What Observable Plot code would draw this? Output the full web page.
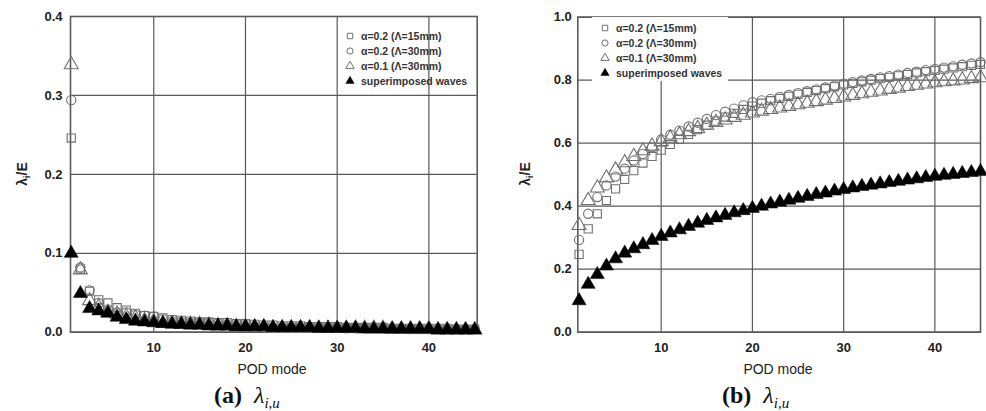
<!DOCTYPE html>
<html>
<head>
<meta charset="utf-8">
<script src="https://cdn.jsdelivr.net/npm/d3@7"></script>
<script src="https://cdn.jsdelivr.net/npm/@observablehq/plot@0.6"></script>
<style>
  html, body { margin: 0; padding: 0; background: #fff; }
  #wrap { position: relative; width: 986px; height: 411px; background: #fff; overflow: hidden; font-family: "Liberation Sans", Arial, sans-serif; color: #222; }
  .panel { position: absolute; top: 0; }
  .ylab { position: absolute; transform: translate(-50%, -50%) rotate(-90deg); font: bold 14px "Liberation Sans", Arial, sans-serif; color: #222; white-space: nowrap; }
  .ylab sub { font-size: 9px; vertical-align: -3px; }
  .xlab { position: absolute; transform: translate(-50%, -50%); font: 14px "Liberation Sans", Arial, sans-serif; color: #222; white-space: nowrap; }
  .cap { position: absolute; transform: translateY(-50%); font-family: "Liberation Serif", "DejaVu Serif", serif; color: #111; white-space: nowrap; }
  .cap b { font-size: 24px; font-weight: bold; }
  .cap i { font-size: 24px; font-style: italic; margin-left: 12px; }
  .cap i sub { font-size: 15px; vertical-align: -5px; }
  .leg { position: absolute; font: bold 10.5px "Liberation Sans", Arial, sans-serif; color: #333; }
  .legrow { position: absolute; height: 14px; line-height: 14px; white-space: nowrap; }
  .legrow svg { position: absolute; left: 0; top: 2px; }
  .legrow span { position: absolute; }
</style>
</head>
<body>
<div id="wrap">
  <div id="pa" class="panel" style="left:0px"></div>
  <div id="pb" class="panel" style="left:490px"></div>
</div>
<script>
// ---------------- data ----------------
const podModes = Array.from({length: 45}, (_, i) => i + 1);

const seriesNames = ["α=0.2 (Λ=15mm)", "α=0.2 (Λ=30mm)", "α=0.1 (Λ=30mm)", "superimposed waves"];

// (a) individual eigenvalue ratio λ_i/E
const a_sq15 = [0.246,0.080,0.052,0.041,0.037,0.031,0.028,0.024,0.021,0.020,0.018,0.016,0.015,0.014,0.013,0.013,0.012,0.012,0.011,0.011,0.010,0.009,0.009,0.008,0.008,0.008,0.007,0.007,0.007,0.007,0.006,0.006,0.006,0.006,0.006,0.005,0.005,0.005,0.005,0.005,0.005,0.005,0.004,0.004,0.004];
const a_ci30 = [0.294,0.082,0.053,0.037,0.029,0.025,0.025,0.022,0.021,0.020,0.016,0.014,0.013,0.012,0.012,0.012,0.011,0.010,0.010,0.010,0.007,0.006,0.006,0.006,0.006,0.006,0.006,0.006,0.006,0.006,0.005,0.005,0.005,0.005,0.005,0.005,0.005,0.004,0.004,0.004,0.004,0.004,0.004,0.004,0.004];
const a_tr30 = [0.339,0.079,0.040,0.032,0.025,0.023,0.020,0.018,0.015,0.014,0.011,0.011,0.010,0.010,0.010,0.009,0.008,0.008,0.007,0.007,0.006,0.006,0.005,0.005,0.005,0.005,0.005,0.005,0.005,0.005,0.005,0.005,0.005,0.005,0.005,0.004,0.004,0.004,0.004,0.004,0.003,0.003,0.003,0.003,0.003];
const a_sup  = [0.100,0.049,0.030,0.027,0.024,0.019,0.016,0.014,0.013,0.012,0.011,0.010,0.010,0.009,0.009,0.008,0.008,0.008,0.007,0.007,0.007,0.007,0.006,0.006,0.006,0.006,0.006,0.005,0.005,0.005,0.005,0.005,0.004,0.004,0.004,0.004,0.004,0.004,0.004,0.004,0.003,0.003,0.003,0.003,0.003];

// (b) cumulative ratio
const b_sq15 = [0.247,0.328,0.376,0.418,0.455,0.485,0.513,0.537,0.558,0.578,0.596,0.612,0.628,0.643,0.657,0.670,0.683,0.695,0.707,0.718,0.727,0.735,0.742,0.749,0.755,0.761,0.767,0.773,0.779,0.785,0.790,0.795,0.800,0.805,0.809,0.814,0.818,0.823,0.827,0.831,0.835,0.839,0.843,0.847,0.850];
const b_ci30 = [0.293,0.376,0.429,0.466,0.494,0.519,0.545,0.566,0.587,0.612,0.627,0.640,0.653,0.665,0.677,0.689,0.700,0.710,0.720,0.730,0.736,0.741,0.747,0.753,0.759,0.765,0.771,0.777,0.783,0.789,0.794,0.799,0.804,0.809,0.813,0.818,0.823,0.827,0.832,0.836,0.840,0.844,0.849,0.853,0.857];
const b_tr30 = [0.339,0.418,0.458,0.490,0.515,0.538,0.558,0.576,0.591,0.605,0.616,0.627,0.637,0.647,0.657,0.666,0.674,0.682,0.689,0.696,0.702,0.707,0.712,0.717,0.722,0.727,0.732,0.737,0.742,0.747,0.752,0.757,0.762,0.766,0.771,0.775,0.780,0.784,0.788,0.792,0.795,0.798,0.801,0.805,0.808];
const b_sup  = [0.100,0.152,0.183,0.210,0.233,0.251,0.265,0.278,0.291,0.304,0.315,0.325,0.336,0.346,0.355,0.363,0.371,0.379,0.386,0.393,0.400,0.407,0.413,0.419,0.425,0.431,0.437,0.442,0.448,0.453,0.458,0.463,0.467,0.471,0.475,0.479,0.483,0.487,0.491,0.495,0.498,0.501,0.504,0.507,0.510];

const xTicks = [10, 20, 30, 40];
const yTicksA = [0, 0.1, 0.2, 0.3, 0.4];
const yTicksB = [0, 0.2, 0.4, 0.6, 0.8, 1.0];

// ---------------- styles ----------------
const gridColor = "#5a5a5a";
const openColor = "#707070";
const symbols = ["square", "circle", "triangle", "triangle"];
const radii = [4.6, 4.6, 5.2, 5.2];

function toRows(arr, k) { return arr.map((v, i) => ({mode: podModes[i], value: v, k})); }

function panel({series, yTicks, yDomain, xDomain, width, marginLeft, marginRight, marginTop, tickPad}) {
  const height = 380;
  const marks = [
    Plot.gridX(xTicks, {stroke: gridColor, strokeOpacity: 1, strokeWidth: 1.2}),
    Plot.gridY(yTicks, {stroke: gridColor, strokeOpacity: 1, strokeWidth: 1.2}),
    Plot.frame({stroke: gridColor, strokeWidth: 1.6}),
    Plot.axisX({ticks: xTicks, tickSize: 0, tickPadding: 11, label: null, fontWeight: "bold"}),
    Plot.axisY({ticks: yTicks, tickSize: 0, tickPadding: tickPad, tickFormat: d3.format(".1f"), label: null, fontWeight: "bold"})
  ];
  series.forEach((arr, k) => {
    const filled = k === 3;
    marks.push(Plot.dot(toRows(arr, k), {
      x: "mode", y: "value", symbol: symbols[k], r: radii[k],
      fill: filled ? "#000" : "none",
      stroke: filled ? "#000" : openColor,
      strokeWidth: filled ? 0.5 : 1.1
    }));
  });
  return Plot.plot({
    width, height, marginLeft, marginRight, marginTop, marginBottom: 48.3,
    x: {domain: xDomain},
    y: {domain: yDomain},
    style: {fontFamily: "'Liberation Sans', Arial, sans-serif", fontSize: "13px", color: "#222", background: "transparent", overflow: "visible"},
    marks
  });
}

document.getElementById("pa").append(panel({
  series: [a_sq15, a_ci30, a_tr30, a_sup], yTicks: yTicksA, yDomain: [0, 0.4], xDomain: [0.92, 45.27],
  width: 490, marginLeft: 70, marginRight: 13.3, marginTop: 16, tickPad: 8
}));
document.getElementById("pb").append(panel({
  series: [b_sq15, b_ci30, b_tr30, b_sup], yTicks: yTicksB, yDomain: [0, 1], xDomain: [0.86, 45.0],
  width: 496, marginLeft: 87.3, marginRight: 6, marginTop: 16.7, tickPad: 6
}));

// ---------------- overlays: labels, legends, captions ----------------
const wrap = document.getElementById("wrap");
function add(html) { wrap.insertAdjacentHTML("beforeend", html); }

add(`<div class="ylab" style="left:23px;top:174px">λ<sub>i</sub>/E</div>`);
add(`<div class="ylab" style="left:526px;top:174px">λ<sub>i</sub>/E</div>`);
add(`<div class="xlab" style="left:272px;top:369px">POD mode</div>`);
add(`<div class="xlab" style="left:778px;top:369px">POD mode</div>`);
add(`<div class="cap" style="left:214px;top:397px"><b>(a)</b><i>λ<sub>i,u</sub></i></div>`);
add(`<div class="cap" style="left:722px;top:397px"><b>(b)</b><i>λ<sub>i,u</sub></i></div>`);

function legend(left, top, withBox) {
  const div = document.createElement("div");
  div.className = "leg";
  div.style.left = left + "px";
  div.style.top = top + "px";
  if (withBox) {
    div.style.background = "#fff";
    div.style.width = "136px";
    div.style.height = "64px";
  }
  seriesNames.forEach((name, k) => {
    const row = document.createElement("div");
    row.className = "legrow";
    row.style.left = (withBox ? 8 : 0) + "px";
    row.style.top = (withBox ? 4 : 0) + k * 15 + "px";
    const path = d3.symbol(d3["symbol" + (symbols[k] === "square" ? "Square" : symbols[k] === "circle" ? "Circle" : "Triangle")], 30)();
    const filled = k === 3;
    row.innerHTML = `<svg width="10" height="10" viewBox="-5 -5 10 10"><path d="${path}" fill="${filled ? "#000" : "none"}" stroke="${filled ? "#000" : openColor}" stroke-width="${filled ? 0.5 : 1}"/></svg><span style="left:16px">${name}</span>`;
    div.appendChild(row);
  });
  wrap.appendChild(div);
}
legend(345, 29, false);
legend(592, 17, true);
</script>
</body>
</html>
